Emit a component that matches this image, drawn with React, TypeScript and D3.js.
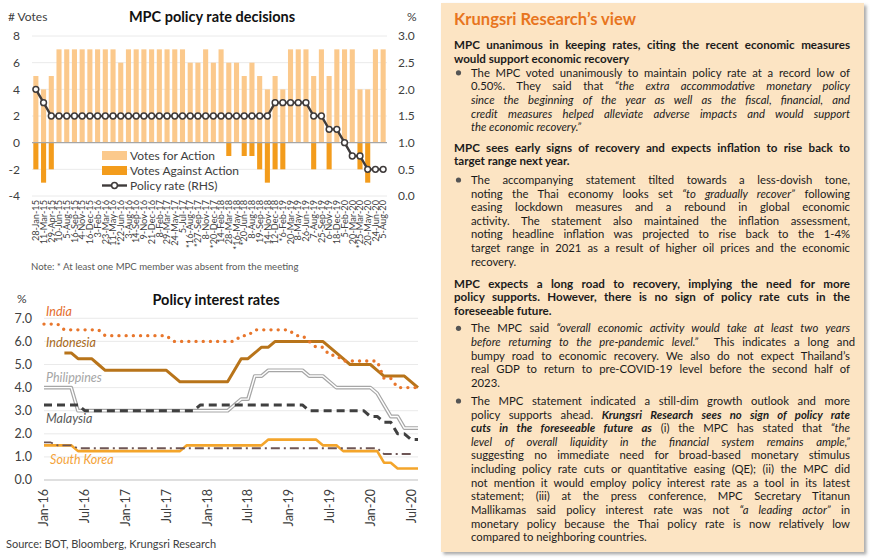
import { useEffect, useRef } from "react";
import * as d3 from "d3";

// ---- MPC policy rate decisions (top left) ----
const meetingDates = [
  "28-Jan-15", "11-Mar-15", "29-Apr-15", "10-Jun-15", "5-Aug-15", "16-Sep-15", "4-Nov-15", "16-Dec-15",
  "3-Feb-16", "23-Mar-16", "11-May-16", "*22-Jun-16", "3-Aug-16", "14-Sep-16", "9-Nov-16", "21-Dec-16",
  "8-Feb-17", "29-Mar-17", "24-May-17", "5-Jul-17", "*16-Aug-17", "*27-Sep-17", "8-Nov-17", "*20-Dec-17",
  "14-Feb-18", "28-Mar-18", "*16-May-18", "*20-Jun-18", "8-Aug-18", "19-Sep-18", "14-Nov-18", "12-Dec-18",
  "*6-Feb-19", "20-Mar-19", "8-May-19", "26-Jun-19", "7-Aug-19", "25-Sep-19", "6-Nov-19", "18-Dec-19",
  "5-Feb-20", "20-Mar-20", "*25-Mar-20", "20-May-20", "24-Jun-20", "5-Aug-20",
];
const votesFor = [
  5, 4, 5, 7, 7, 7, 7, 7, 7, 7, 7, 6, 7, 7, 7, 7, 7, 7, 7, 7,
  6, 6, 7, 6, 7, 6, 6, 5, 6, 5, 4, 5, 4, 7, 7, 7, 5, 7, 5, 7,
  7, 7, 4, 4, 7, 7,
];
const votesAgainst = [
  -2, -3, -2, 0, 0, 0, 0, 0, 0, 0, 0, 0, 0, 0, 0, 0, 0, 0, 0, 0,
  0, 0, 0, 0, 0, -1, 0, -1, -1, -2, -3, -2, -2, 0, 0, 0, -2, 0, -2, 0,
  0, 0, -2, -3, 0, 0,
];
const policyRate = [
  2.0, 1.75, 1.5, 1.5, 1.5, 1.5, 1.5, 1.5, 1.5, 1.5, 1.5, 1.5, 1.5, 1.5, 1.5, 1.5,
  1.5, 1.5, 1.5, 1.5, 1.5, 1.5, 1.5, 1.5, 1.5, 1.5, 1.5, 1.5, 1.5, 1.5, 1.5, 1.75,
  1.75, 1.75, 1.75, 1.75, 1.5, 1.5, 1.25, 1.25, 1.0, 0.75, 0.75, 0.5, 0.5, 0.5,
];
const votesTicks = [-4, -2, 0, 2, 4, 6, 8];
const rateTicks = [0, 0.5, 1, 1.5, 2, 2.5, 3];

// ---- Policy interest rates (bottom left), monthly Jan-16 .. Aug-20 ----
const india = [
  6.75, 6.75, 6.75, 6.5, 6.5, 6.5, 6.5, 6.5, 6.5, 6.25, 6.25, 6.25,
  6.25, 6.25, 6.25, 6.25, 6.25, 6.25, 6.25, 6.0, 6.0, 6.0, 6.0, 6.0,
  6.0, 6.0, 6.0, 6.0, 6.0, 6.25, 6.25, 6.5, 6.5, 6.5, 6.5, 6.5,
  6.5, 6.25, 6.25, 6.0, 5.75, 5.75, 5.4, 5.4, 5.15, 5.15, 5.15, 5.15,
  5.15, 5.15, 4.4, 4.4, 4.0, 4.0, 4.0, 4.0,
];
const indonesia = [
  null, null, null, 5.5, 5.5, 5.25, 5.25, 5.25, 5.0, 4.75, 4.75, 4.75,
  4.75, 4.75, 4.75, 4.75, 4.75, 4.75, 4.75, 4.5, 4.25, 4.25, 4.25, 4.25,
  4.25, 4.25, 4.25, 4.25, 4.75, 5.25, 5.25, 5.5, 5.75, 5.75, 6.0, 6.0,
  6.0, 6.0, 6.0, 6.0, 6.0, 6.0, 5.75, 5.5, 5.25, 5.0, 5.0, 5.0,
  5.0, 4.75, 4.5, 4.5, 4.5, 4.5, 4.25, 4.0,
];
const philippines = [
  4.0, 4.0, 4.0, 4.0, 4.0, 3.0, 3.0, 3.0, 3.0, 3.0, 3.0, 3.0,
  3.0, 3.0, 3.0, 3.0, 3.0, 3.0, 3.0, 3.0, 3.0, 3.0, 3.0, 3.0,
  3.0, 3.0, 3.0, 3.0, 3.25, 3.5, 3.5, 4.5, 4.5, 4.75, 4.75, 4.75,
  4.75, 4.75, 4.75, 4.5, 4.5, 4.5, 4.25, 4.0, 4.0, 4.0, 4.0, 4.0,
  4.0, 3.75, 3.25, 2.75, 2.75, 2.25, 2.25, 2.25,
];
const malaysia = [
  3.25, 3.25, 3.25, 3.25, 3.25, 3.25, 3.0, 3.0, 3.0, 3.0, 3.0, 3.0,
  3.0, 3.0, 3.0, 3.0, 3.0, 3.0, 3.0, 3.0, 3.0, 3.0, 3.0, 3.25,
  3.25, 3.25, 3.25, 3.25, 3.25, 3.25, 3.25, 3.25, 3.25, 3.25, 3.25, 3.25,
  3.25, 3.25, 3.25, 3.0, 3.0, 3.0, 3.0, 3.0, 3.0, 3.0, 3.0, 3.0,
  2.75, 2.75, 2.5, 2.5, 2.0, 2.0, 1.75, 1.75,
];
const southKorea = [
  1.5, 1.5, 1.5, 1.5, 1.5, 1.25, 1.25, 1.25, 1.25, 1.25, 1.25, 1.25,
  1.25, 1.25, 1.25, 1.25, 1.25, 1.25, 1.25, 1.25, 1.25, 1.5, 1.5, 1.5,
  1.5, 1.5, 1.5, 1.5, 1.5, 1.5, 1.5, 1.5, 1.5, 1.75, 1.75, 1.75,
  1.75, 1.75, 1.75, 1.75, 1.75, 1.5, 1.5, 1.5, 1.25, 1.25, 1.25, 1.25,
  1.25, 1.25, 0.75, 0.75, 0.5, 0.5, 0.5, 0.5,
];
// unlabelled dash-dot series
const taiwan = [
  1.625, 1.625, 1.5, 1.5, 1.5, 1.375, 1.375, 1.375, 1.375, 1.375, 1.375, 1.375,
  1.375, 1.375, 1.375, 1.375, 1.375, 1.375, 1.375, 1.375, 1.375, 1.375, 1.375, 1.375,
  1.375, 1.375, 1.375, 1.375, 1.375, 1.375, 1.375, 1.375, 1.375, 1.375, 1.375, 1.375,
  1.375, 1.375, 1.375, 1.375, 1.375, 1.375, 1.375, 1.375, 1.375, 1.375, 1.375, 1.375,
  1.375, 1.375, 1.125, 1.125, 1.125, 1.125, 1.125, null,
];
const monthTickLabels = ["Jan-16", "Jul-16", "Jan-17", "Jul-17", "Jan-18", "Jul-18", "Jan-19", "Jul-19", "Jan-20", "Jul-20"];
const monthTickIndex = [0, 6, 12, 18, 24, 30, 36, 42, 48, 54];
const rateAxisTicks = [0, 1, 2, 3, 4, 5, 6, 7];

// ---- Krungsri Research's view (right panel) ----
type Seg = [string, string];
const viewTitle = "Krungsri Research’s view";
const viewBlocks: { type: "head" | "bullet"; lines: Seg[][] }[] = [
  {
    type: "head",
    lines: [
      [["MPC unanimous in keeping rates, citing the recent economic measures", "b"]],
      [["would support economic recovery", "b"]],
    ],
  },
  {
    type: "bullet",
    lines: [
      [["The MPC voted unanimously to maintain policy rate at a record low of", ""]],
      [["0.50%. They said that ", ""], ["“the extra accommodative monetary policy", "i"]],
      [["since the beginning of the year as well as the fiscal, financial, and", "i"]],
      [["credit measures helped alleviate adverse impacts and would support", "i"]],
      [["the economic recovery.”", "i"]],
    ],
  },
  {
    type: "head",
    lines: [
      [["MPC sees early signs of recovery and expects inflation to rise back to", "b"]],
      [["target range next year.", "b"]],
    ],
  },
  {
    type: "bullet",
    lines: [
      [["The accompanying statement tilted towards a less-dovish tone,", ""]],
      [["noting the Thai economy looks set ", ""], ["“to gradually recover”", "i"], [" following", ""]],
      [["easing lockdown measures and a rebound in global economic", ""]],
      [["activity. The statement also maintained the inflation assessment,", ""]],
      [["noting headline inflation was projected to rise back to the 1-4%", ""]],
      [["target range in 2021 as a result of higher oil prices and the economic", ""]],
      [["recovery.", ""]],
    ],
  },
  {
    type: "head",
    lines: [
      [["MPC expects a long road to recovery, implying the need for more", "b"]],
      [["policy supports. However, there is no sign of policy rate cuts in the", "b"]],
      [["foreseeable future.", "b"]],
    ],
  },
  {
    type: "bullet",
    lines: [
      [["The MPC said ", ""], ["“overall economic activity would take at least two years", "i"]],
      [["before returning to the pre-pandemic level.”", "i"], ["  This indicates a long and", ""]],
      [["bumpy road to economic recovery. We also do not expect Thailand’s", ""]],
      [["real GDP to return to pre-COVID-19 level before the second half of", ""]],
      [["2023.", ""]],
    ],
  },
  {
    type: "bullet",
    lines: [
      [["The MPC statement indicated a still-dim growth outlook and more", ""]],
      [["policy supports ahead. ", ""], ["Krungsri Research sees no sign of policy rate", "bi"]],
      [["cuts in the foreseeable future as", "bi"], [" (i) the MPC has stated that ", ""], ["“the", "i"]],
      [["level of overall liquidity in the financial system remains ample,”", "i"]],
      [["suggesting no immediate need for broad-based monetary stimulus", ""]],
      [["including policy rate cuts or quantitative easing (QE); (ii) the MPC did", ""]],
      [["not mention it would employ policy interest rate as a tool in its latest", ""]],
      [["statement; (iii) at the press conference, MPC Secretary Titanun", ""]],
      [["Mallikamas said policy interest rate was not ", ""], ["“a leading actor”", "i"], [" in", ""]],
      [["monetary policy because the Thai policy rate is now relatively low", ""]],
      [["compared to neighboring countries.", ""]],
    ],
  },
];

const FONT = "Lato, 'Open Sans', 'DejaVu Sans', sans-serif";
const AXIS_TEXT = "#404040";

type Svg = d3.Selection<SVGSVGElement, unknown, null, undefined>;

function drawVotes(svg: Svg) {
  const g = svg.append("g").attr("font-family", FONT);
  const x = d3.scaleBand<string>().domain(meetingDates).range([32, 387]).paddingInner(0.34).paddingOuter(0.17);
  const yV = d3.scaleLinear().domain([-4, 8]).range([196, 36]);
  const yR = d3.scaleLinear().domain([0, 3]).range([196, 36]);
  const cx = (d: string) => (x(d) as number) + x.bandwidth() / 2;

  g.append("text").attr("x", 8).attr("y", 21).attr("font-size", 12).attr("fill", AXIS_TEXT).text("# Votes");
  g.append("text").attr("x", 407).attr("y", 21).attr("font-size", 12).attr("fill", AXIS_TEXT).text("%");
  g.append("text")
    .attr("x", 212)
    .attr("y", 22)
    .attr("text-anchor", "middle")
    .attr("font-size", 14.5)
    .attr("font-weight", "bold")
    .attr("fill", "#111")
    .text("MPC policy rate decisions");

  // gridlines
  g.selectAll(".vgrid")
    .data(votesTicks.filter((d) => d !== 0))
    .join("line")
    .attr("x1", 32)
    .attr("x2", 387)
    .attr("y1", (d) => yV(d))
    .attr("y2", (d) => yV(d))
    .attr("stroke", "#e4e4e4")
    .attr("stroke-width", 0.8);

  // bars
  g.selectAll(".for")
    .data(votesFor)
    .join("rect")
    .attr("x", (_, i) => x(meetingDates[i]) as number)
    .attr("width", x.bandwidth())
    .attr("y", (d) => yV(d))
    .attr("height", (d) => yV(0) - yV(d))
    .attr("fill", "#FBC98C");
  g.selectAll(".against")
    .data(votesAgainst)
    .join("rect")
    .attr("x", (_, i) => x(meetingDates[i]) as number)
    .attr("width", x.bandwidth())
    .attr("y", yV(0))
    .attr("height", (d) => yV(d) - yV(0))
    .attr("fill", "#F39C1C");

  g.append("line")
    .attr("x1", 32)
    .attr("x2", 387)
    .attr("y1", yV(0))
    .attr("y2", yV(0))
    .attr("stroke", "#a6a6a6")
    .attr("stroke-width", 1.1);

  // policy rate line (RHS)
  const line = d3
    .line<number>()
    .x((_, i) => cx(meetingDates[i]))
    .y((d) => yR(d));
  g.append("path").datum(policyRate).attr("d", line).attr("fill", "none").attr("stroke", "#3f3b3b").attr("stroke-width", 2.4);
  g.selectAll(".dot")
    .data(policyRate)
    .join("circle")
    .attr("cx", (_, i) => cx(meetingDates[i]))
    .attr("cy", (d) => yR(d))
    .attr("r", 2.9)
    .attr("fill", "#fff")
    .attr("stroke", "#3f3b3b")
    .attr("stroke-width", 1.5);

  // axes labels
  g.selectAll(".yl")
    .data(votesTicks)
    .join("text")
    .attr("x", 20)
    .attr("y", (d) => yV(d))
    .attr("dy", "0.35em")
    .attr("text-anchor", "end")
    .attr("font-size", 12)
    .attr("fill", AXIS_TEXT)
    .text((d) => String(d));
  g.selectAll(".yr")
    .data(rateTicks)
    .join("text")
    .attr("x", 398)
    .attr("y", (d) => yR(d))
    .attr("dy", "0.35em")
    .attr("font-size", 12)
    .attr("fill", AXIS_TEXT)
    .text((d) => d.toFixed(1));
  g.selectAll(".xl")
    .data(meetingDates)
    .join("text")
    .attr("transform", (d) => `translate(${cx(d)},200) rotate(-90)`)
    .attr("dy", "0.35em")
    .attr("text-anchor", "end")
    .attr("font-size", 9.2)
    .attr("fill", AXIS_TEXT)
    .text((d) => d);

  // legend
  const lg = g.append("g").attr("font-size", 12).attr("fill", AXIS_TEXT);
  lg.append("rect").attr("x", 102).attr("y", 151).attr("width", 25).attr("height", 9).attr("fill", "#FBC98C");
  lg.append("text").attr("x", 130).attr("y", 160).attr("fill", AXIS_TEXT).text("Votes for Action");
  lg.append("rect").attr("x", 102).attr("y", 166).attr("width", 25).attr("height", 9).attr("fill", "#F39C1C");
  lg.append("text").attr("x", 130).attr("y", 175).attr("fill", AXIS_TEXT).text("Votes Against Action");
  lg.append("line").attr("x1", 102).attr("x2", 127).attr("y1", 185.5).attr("y2", 185.5).attr("stroke", "#3f3b3b").attr("stroke-width", 2.4);
  lg.append("circle").attr("cx", 114.5).attr("cy", 185.5).attr("r", 2.9).attr("fill", "#fff").attr("stroke", "#3f3b3b").attr("stroke-width", 1.5);
  lg.append("text").attr("x", 130).attr("y", 190).attr("fill", AXIS_TEXT).text("Policy rate (RHS)");

  g.append("text")
    .attr("x", 31)
    .attr("y", 270)
    .attr("font-size", 9.6)
    .attr("fill", "#595959")
    .text("Note: * At least one MPC member was absent from the meeting");
}

function drawRates(svg: Svg) {
  const g = svg.append("g").attr("font-family", FONT);
  const xm = d3.scaleLinear().domain([0, 55]).range([44, 418]);
  const y = d3.scaleLinear().domain([0, 7]).range([480, 318.3]);

  g.append("text").attr("x", 17).attr("y", 303).attr("font-size", 12).attr("fill", AXIS_TEXT).text("%");
  g.append("text")
    .attr("x", 216)
    .attr("y", 305)
    .attr("text-anchor", "middle")
    .attr("font-size", 14.5)
    .attr("font-weight", "bold")
    .attr("fill", "#111")
    .text("Policy interest rates");

  g.selectAll(".grid")
    .data(rateAxisTicks)
    .join("line")
    .attr("x1", 44)
    .attr("x2", 418)
    .attr("y1", (d) => y(d))
    .attr("y2", (d) => y(d))
    .attr("stroke", (d) => (d === 0 ? "#bfbfbf" : "#e4e4e4"))
    .attr("stroke-width", (d) => (d === 0 ? 1.1 : 0.8));

  g.selectAll(".yl")
    .data(rateAxisTicks)
    .join("text")
    .attr("x", 32)
    .attr("y", (d) => y(d))
    .attr("dy", "0.35em")
    .attr("text-anchor", "end")
    .attr("font-size", 12.5)
    .attr("fill", AXIS_TEXT)
    .text((d) => d.toFixed(1));

  g.selectAll(".xl")
    .data(monthTickLabels)
    .join("text")
    .attr("transform", (_, i) => `translate(${xm(monthTickIndex[i])},489) rotate(-90)`)
    .attr("dy", "0.35em")
    .attr("text-anchor", "end")
    .attr("font-size", 12.5)
    .attr("fill", AXIS_TEXT)
    .text((d) => d);

  const line = d3
    .line<number | null>()
    .defined((d) => d != null)
    .x((_, i) => xm(i))
    .y((d) => y(d as number));

  const path = (data: (number | null)[], stroke: string, width: number, dash?: string, cap = "butt") =>
    g
      .append("path")
      .datum(data)
      .attr("d", line)
      .attr("fill", "none")
      .attr("stroke", stroke)
      .attr("stroke-width", width)
      .attr("stroke-dasharray", dash ?? null)
      .attr("stroke-linecap", cap)
      .attr("stroke-linejoin", "round");

  path(philippines, "#a6a6a6", 3.8);
  path(philippines, "#ffffff", 1.4);
  path(malaysia, "#404040", 3, "8,5");
  path(southKorea, "#F4A52B", 2.6);
  path(taiwan, "#6e5656", 1.8, "9,4,2,4");
  path(indonesia, "#B8741A", 3);
  path(india, "#E8762C", 3.4, "0,7.2", "round");

  const labels: { text: string; m: number; v: number; color: string }[] = [
    { text: "India", m: 0.3, v: 7.08, color: "#E46C2A" },
    { text: "Indonesia", m: 0.3, v: 5.74, color: "#A8691A" },
    { text: "Philippines", m: 0.3, v: 4.23, color: "#A6A6A6" },
    { text: "Malaysia", m: 0.3, v: 2.46, color: "#595959" },
    { text: "South Korea", m: 0.9, v: 0.7, color: "#F4A33A" },
  ];
  g.selectAll(".sl")
    .data(labels)
    .join("text")
    .attr("x", (d) => xm(d.m))
    .attr("y", (d) => y(d.v))
    .attr("font-size", 12.5)
    .attr("font-style", "italic")
    .attr("fill", (d) => d.color)
    .text((d) => d.text);

  g.append("text")
    .attr("x", 6)
    .attr("y", 548)
    .attr("font-size", 11)
    .attr("fill", AXIS_TEXT)
    .text("Source: BOT, Bloomberg, Krungsri Research");
}

function justify(t: d3.Selection<SVGTextElement, unknown, null, undefined>, width: number, last: boolean) {
  const node = t.node();
  if (!node) return;
  const natural = node.getComputedTextLength();
  const spaces = (node.textContent || "").replace(/\s+/g, " ").trim().split(" ").length - 1;
  if (natural > width) {
    t.attr("textLength", width).attr("lengthAdjust", "spacingAndGlyphs");
  } else if (!last && spaces > 0) {
    t.style("word-spacing", `${(width - natural) / spaces}px`);
  }
}

function drawPanel(svg: Svg) {
  const defs = svg.append("defs");
  defs
    .append("filter")
    .attr("id", "panelShadow")
    .attr("x", "-5%")
    .attr("y", "-5%")
    .attr("width", "110%")
    .attr("height", "110%")
    .append("feDropShadow")
    .attr("dx", 2.5)
    .attr("dy", 2.5)
    .attr("stdDeviation", 1.8)
    .attr("flood-color", "#666")
    .attr("flood-opacity", 0.55);

  const g = svg.append("g").attr("font-family", FONT);
  g.append("rect")
    .attr("x", 441)
    .attr("y", 3)
    .attr("width", 423)
    .attr("height", 549)
    .attr("fill", "#FCE4C3")
    .attr("filter", "url(#panelShadow)");

  const title = g
    .append("text")
    .attr("x", 454)
    .attr("y", 25)
    .attr("font-size", 17)
    .attr("font-weight", "bold")
    .attr("fill", "#E8751E")
    .text(viewTitle);
  title.attr("textLength", 182).attr("lengthAdjust", "spacingAndGlyphs");

  const lineH = 13.62;
  const starts = [49, 76.8, 151.7, 184, 287.7, 332.3, 405];
  viewBlocks.forEach((block, bi) => {
    const isHead = block.type === "head";
    const x0 = isHead ? 454 : 471;
    const width = 850 - x0;
    if (!isHead) {
      g.append("circle").attr("cx", 458.5).attr("cy", starts[bi] - 4).attr("r", 2.6).attr("fill", "#555");
    }
    block.lines.forEach((segs, li) => {
      const t = g
        .append("text")
        .attr("x", x0)
        .attr("y", starts[bi] + li * lineH)
        .attr("font-size", isHead ? 11.6 : 11.3)
        .attr("fill", "#1b1b1b")
        .style("white-space", "pre");
      segs.forEach(([txt, st]) => {
        t.append("tspan")
          .attr("font-weight", st.includes("b") ? "bold" : "normal")
          .attr("font-style", st.includes("i") ? "italic" : "normal")
          .text(txt);
      });
      justify(t, width, li === block.lines.length - 1);
    });
  });
}

export default function App() {
  const ref = useRef<SVGSVGElement>(null);

  useEffect(() => {
    if (!ref.current) return;
    const svg = d3.select(ref.current);
    svg.selectAll("*").remove();
    drawVotes(svg);
    drawRates(svg);
    drawPanel(svg);
  }, []);

  return (
    <svg
      ref={ref}
      width={870}
      height={560}
      style={{ position: "absolute", left: 0, top: 0, background: "#fff", display: "block" }}
    />
  );
}
